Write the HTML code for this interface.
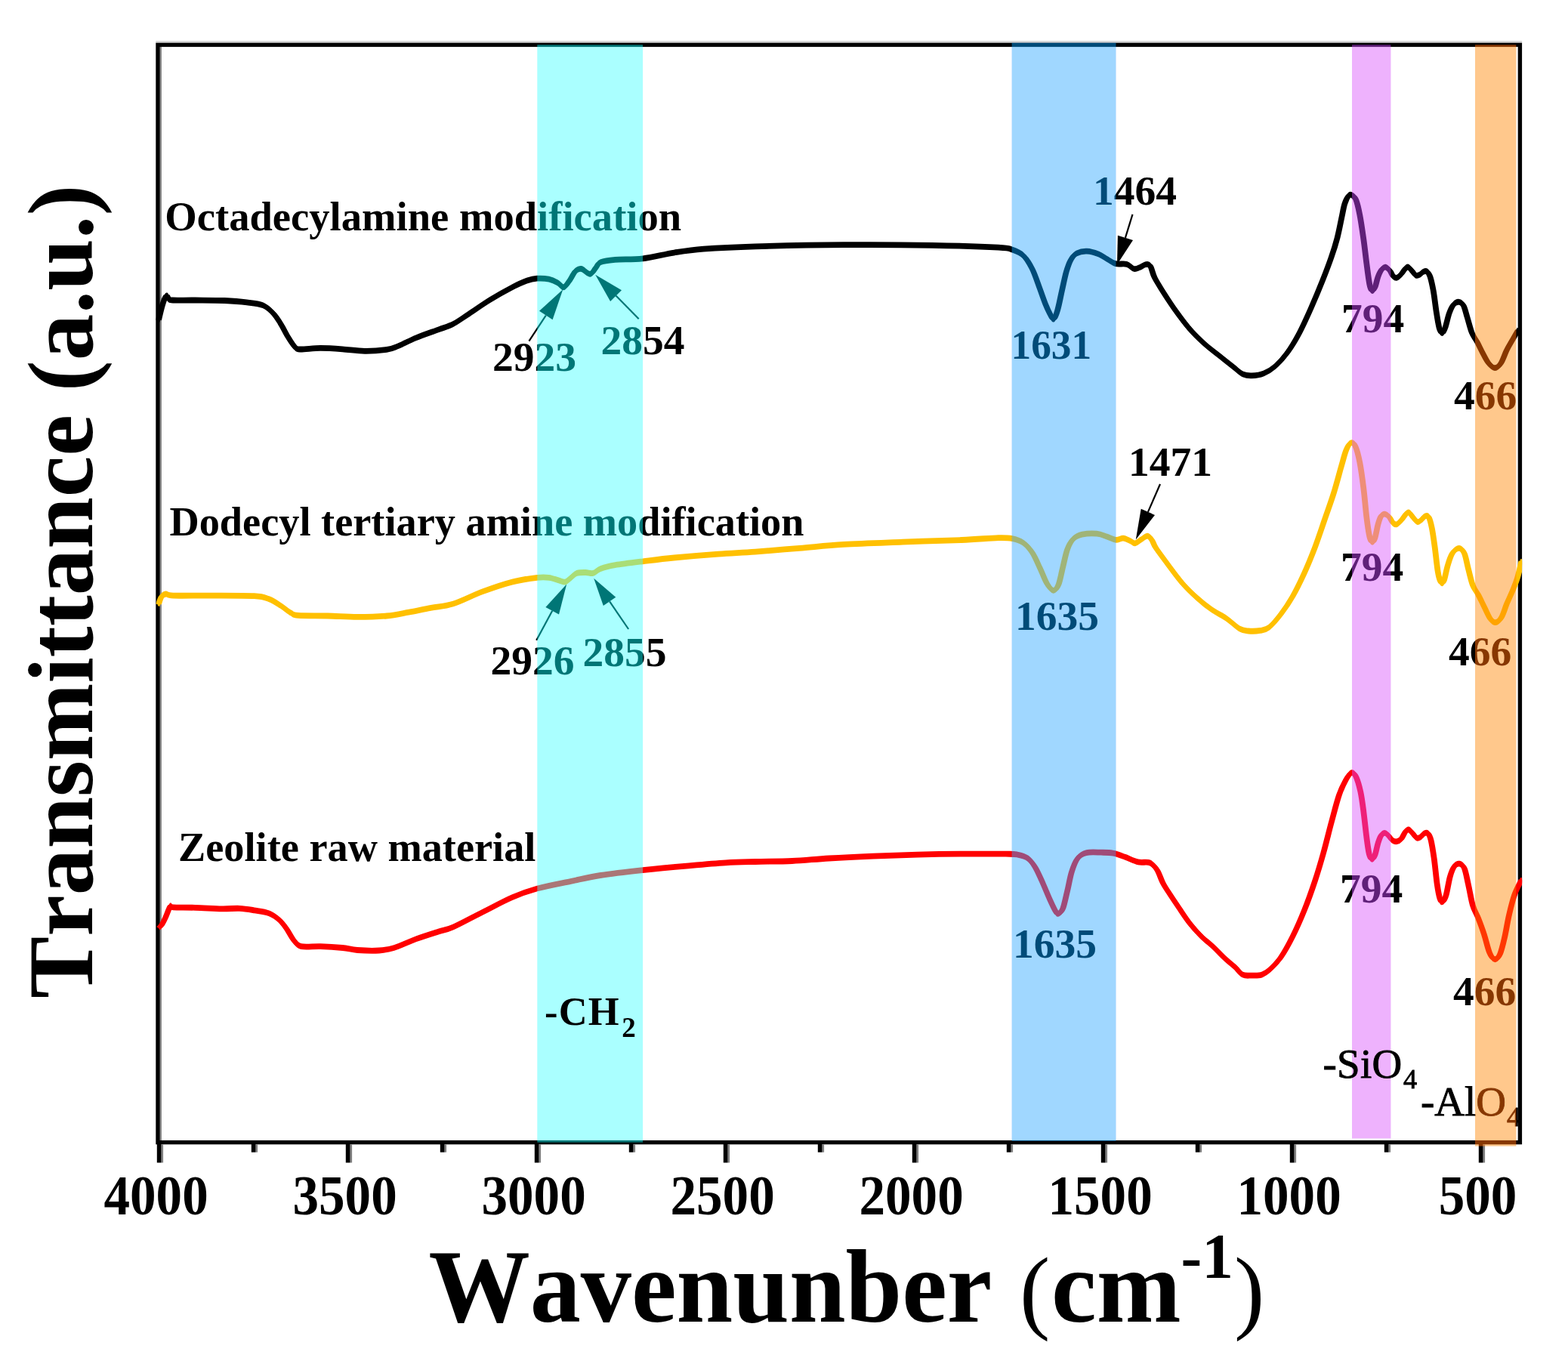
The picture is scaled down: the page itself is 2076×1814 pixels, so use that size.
<!DOCTYPE html>
<html lang="en"><head><meta charset="utf-8"><title>FTIR spectra</title>
<style>html,body{margin:0;padding:0;background:#fff}body{width:2076px;height:1814px;overflow:hidden}svg{display:block}text{font-kerning:none;font-family:"Liberation Serif","DejaVu Serif",serif;fill:#000}</style></head><body>
<svg xmlns="http://www.w3.org/2000/svg" width="2076" height="1814" viewBox="0 0 2076 1814">
<rect width="2076" height="1814" fill="#fff"/>
<g id="frame">
<rect x="206.3" y="54.0" width="1808.8" height="3.0" fill="#d8d8d8"/>
<rect x="211.4" y="59.4" width="2.6" height="1453.2" fill="#8a8a8a"/>
<rect x="209.00" y="59.40" width="1803.40" height="1453.20" fill="none" stroke="#000" stroke-width="5.40"/>
<rect x="213.2" y="1515.3" width="2.9" height="24.2" fill="#808080"/>
<line x1="210.6" y1="1512.6" x2="210.6" y2="1539.5" stroke="#000" stroke-width="5.6"/>
<rect x="338.2" y="1515.3" width="2.9" height="10.4" fill="#808080"/>
<line x1="335.6" y1="1512.6" x2="335.6" y2="1525.7" stroke="#000" stroke-width="5.6"/>
<rect x="463.2" y="1515.3" width="2.9" height="24.2" fill="#808080"/>
<line x1="460.6" y1="1512.6" x2="460.6" y2="1539.5" stroke="#000" stroke-width="5.6"/>
<rect x="588.2" y="1515.3" width="2.9" height="10.4" fill="#808080"/>
<line x1="585.6" y1="1512.6" x2="585.6" y2="1525.7" stroke="#000" stroke-width="5.6"/>
<rect x="713.2" y="1515.3" width="2.9" height="24.2" fill="#808080"/>
<line x1="710.6" y1="1512.6" x2="710.6" y2="1539.5" stroke="#000" stroke-width="5.6"/>
<rect x="838.2" y="1515.3" width="2.9" height="10.4" fill="#808080"/>
<line x1="835.6" y1="1512.6" x2="835.6" y2="1525.7" stroke="#000" stroke-width="5.6"/>
<rect x="963.2" y="1515.3" width="2.9" height="24.2" fill="#808080"/>
<line x1="960.6" y1="1512.6" x2="960.6" y2="1539.5" stroke="#000" stroke-width="5.6"/>
<rect x="1088.2" y="1515.3" width="2.9" height="10.4" fill="#808080"/>
<line x1="1085.6" y1="1512.6" x2="1085.6" y2="1525.7" stroke="#000" stroke-width="5.6"/>
<rect x="1213.2" y="1515.3" width="2.9" height="24.2" fill="#808080"/>
<line x1="1210.6" y1="1512.6" x2="1210.6" y2="1539.5" stroke="#000" stroke-width="5.6"/>
<rect x="1338.2" y="1515.3" width="2.9" height="10.4" fill="#808080"/>
<line x1="1335.6" y1="1512.6" x2="1335.6" y2="1525.7" stroke="#000" stroke-width="5.6"/>
<rect x="1463.2" y="1515.3" width="2.9" height="24.2" fill="#808080"/>
<line x1="1460.6" y1="1512.6" x2="1460.6" y2="1539.5" stroke="#000" stroke-width="5.6"/>
<rect x="1588.2" y="1515.3" width="2.9" height="10.4" fill="#808080"/>
<line x1="1585.6" y1="1512.6" x2="1585.6" y2="1525.7" stroke="#000" stroke-width="5.6"/>
<rect x="1713.2" y="1515.3" width="2.9" height="24.2" fill="#808080"/>
<line x1="1710.6" y1="1512.6" x2="1710.6" y2="1539.5" stroke="#000" stroke-width="5.6"/>
<rect x="1838.2" y="1515.3" width="2.9" height="10.4" fill="#808080"/>
<line x1="1835.6" y1="1512.6" x2="1835.6" y2="1525.7" stroke="#000" stroke-width="5.6"/>
<rect x="1963.2" y="1515.3" width="2.9" height="24.2" fill="#808080"/>
<line x1="1960.6" y1="1512.6" x2="1960.6" y2="1539.5" stroke="#000" stroke-width="5.6"/>
</g>
<g id="ticklabels">
<text transform="translate(206.6 1608.0) scale(0.9450 1)" font-size="73.1" font-weight="bold" text-anchor="middle">4000</text>
<text transform="translate(456.6 1608.0) scale(0.9450 1)" font-size="73.1" font-weight="bold" text-anchor="middle">3500</text>
<text transform="translate(706.6 1608.0) scale(0.9450 1)" font-size="73.1" font-weight="bold" text-anchor="middle">3000</text>
<text transform="translate(956.6 1608.0) scale(0.9450 1)" font-size="73.1" font-weight="bold" text-anchor="middle">2500</text>
<text transform="translate(1206.6 1608.0) scale(0.9450 1)" font-size="73.1" font-weight="bold" text-anchor="middle">2000</text>
<text transform="translate(1456.6 1608.0) scale(0.9450 1)" font-size="73.1" font-weight="bold" text-anchor="middle">1500</text>
<text transform="translate(1706.6 1608.0) scale(0.9450 1)" font-size="73.1" font-weight="bold" text-anchor="middle">1000</text>
<text transform="translate(1956.6 1608.0) scale(0.9450 1)" font-size="73.1" font-weight="bold" text-anchor="middle">500</text>
</g>
<text transform="translate(567.5 1749.5) scale(0.9800 1)" font-size="137.0" font-weight="bold" letter-spacing="0.00">Wavenunber <tspan font-weight="normal" font-size="123.3" dx="3.0">(</tspan><tspan dx="2.0">cm</tspan><tspan font-size="85.0" dy="-58.0" letter-spacing="0">-1</tspan><tspan font-weight="normal" font-size="123.3" dy="58.0" dx="1.0">)</tspan></text>
<text transform="translate(121.5 1322.0) rotate(-90) scale(1.0095 1)" font-size="122.0" font-weight="bold" letter-spacing="0.00">Transmittance (a.u.)</text>
<g id="labels">
<text transform="translate(218.3 304.8) scale(1.0000 1)" font-size="54.6" font-weight="bold" text-anchor="start">Octadecylamine modification</text>
<text transform="translate(224.5 709.0) scale(1.0000 1)" font-size="54.3" font-weight="bold" text-anchor="start">Dodecyl tertiary amine modification</text>
<text transform="translate(236.0 1140.4) scale(1.0000 1)" font-size="54.3" font-weight="bold" text-anchor="start">Zeolite raw material</text>
<text transform="translate(652.0 491.2) scale(1.0000 1)" font-size="55.5" font-weight="bold" text-anchor="start">2923</text>
<text transform="translate(795.5 469.3) scale(1.0000 1)" font-size="55.5" font-weight="bold" text-anchor="start">2854</text>
<text transform="translate(1338.5 475.4) scale(0.9600 1)" font-size="55.5" font-weight="bold" text-anchor="start">1631</text>
<text transform="translate(1447.0 271.2) scale(1.0000 1)" font-size="55.5" font-weight="bold" text-anchor="start">1464</text>
<text transform="translate(1776.0 439.6) scale(1.0000 1)" font-size="55.5" font-weight="bold" text-anchor="start">794</text>
<text transform="translate(1925.0 542.0) scale(1.0000 1)" font-size="55.5" font-weight="bold" text-anchor="start">466</text>
<text transform="translate(649.5 893.1) scale(1.0000 1)" font-size="55.5" font-weight="bold" text-anchor="start">2926</text>
<text transform="translate(771.5 882.4) scale(1.0000 1)" font-size="55.5" font-weight="bold" text-anchor="start">2855</text>
<text transform="translate(1344.0 834.1) scale(1.0000 1)" font-size="55.5" font-weight="bold" text-anchor="start">1635</text>
<text transform="translate(1494.0 629.9) scale(1.0000 1)" font-size="55.5" font-weight="bold" text-anchor="start">1471</text>
<text transform="translate(1775.0 768.6) scale(1.0000 1)" font-size="55.5" font-weight="bold" text-anchor="start">794</text>
<text transform="translate(1918.0 881.0) scale(1.0000 1)" font-size="55.5" font-weight="bold" text-anchor="start">466</text>
<text transform="translate(1341.0 1267.8) scale(1.0000 1)" font-size="55.5" font-weight="bold" text-anchor="start">1635</text>
<text transform="translate(1774.0 1195.1) scale(1.0000 1)" font-size="55.5" font-weight="bold" text-anchor="start">794</text>
<text transform="translate(1924.0 1331.1) scale(1.0000 1)" font-size="55.5" font-weight="bold" text-anchor="start">466</text>
</g>
<g id="arrows">
<line x1="700.4" y1="451.6" x2="722.8" y2="417.6" stroke="#000" stroke-width="2.2"/><polygon points="745.3,383.3 731.6,423.3 714.0,411.8" fill="#000"/>
<line x1="845.7" y1="422.3" x2="815.5" y2="391.6" stroke="#000" stroke-width="2.2"/><polygon points="788.2,363.8 823.0,384.3 808.1,399.0" fill="#000"/>
<line x1="1499.5" y1="283.9" x2="1489.9" y2="314.9" stroke="#000" stroke-width="2.2"/><polygon points="1479.0,350.2 1479.9,311.7 1500.0,318.0" fill="#000"/>
<line x1="710.2" y1="847.7" x2="731.2" y2="808.8" stroke="#000" stroke-width="2.2"/><polygon points="750.2,773.6 740.0,813.5 722.4,804.0" fill="#000"/>
<line x1="832.1" y1="833.0" x2="807.1" y2="796.4" stroke="#000" stroke-width="2.2"/><polygon points="786.2,765.8 815.3,790.7 798.8,802.0" fill="#000"/>
<line x1="1536.0" y1="641.0" x2="1519.9" y2="677.9" stroke="#000" stroke-width="2.2"/><polygon points="1503.8,714.5 1510.7,673.8 1529.0,681.9" fill="#000"/>
</g>
<text x="1881.0" y="1476.5" font-size="55.0" font-weight="normal" letter-spacing="0.00" stroke="#000" stroke-width="0.90">-AlO<tspan font-size="36.0" dy="14.0" dx="1.0">4</tspan></text>
<clipPath id="plotclip"><rect x="206.3" y="0" width="1808.8" height="1814"/></clipPath>
<g id="curves" clip-path="url(#plotclip)" fill="none" stroke-linejoin="round" stroke-linecap="butt" stroke-width="2.7">
<g stroke="#000"><path id="c1" d="M210.0 424.0C210.8 420.7 213.3 409.4 215.0 404.0C216.7 398.6 218.8 392.8 220.2 391.5C221.6 390.2 222.1 395.3 223.6 396.3C225.1 397.3 223.2 397.3 229.0 397.5C234.8 397.7 247.1 397.4 258.5 397.5C269.9 397.6 286.1 397.5 297.5 398.0C308.9 398.5 318.4 399.3 326.8 400.4C335.2 401.4 342.4 401.9 348.2 404.3C354.0 406.7 358.0 410.9 361.9 415.0C365.8 419.1 368.4 423.5 371.6 428.7C374.9 433.9 378.3 441.2 381.4 446.3C384.5 451.4 387.5 456.3 390.1 459.0C392.7 461.7 391.3 462.2 397.0 462.5C402.7 462.8 414.9 460.9 424.3 460.9C433.7 460.9 443.8 461.6 453.5 462.3C463.2 463.0 473.1 464.7 482.8 464.8C492.6 464.9 504.5 464.0 512.0 462.9C519.5 461.8 521.1 460.6 527.6 458.0C534.1 455.4 542.2 450.8 551.0 447.2C559.8 443.6 572.1 439.5 580.3 436.5C588.5 433.5 593.5 432.3 600.0 429.0C606.5 425.7 611.4 421.8 619.5 416.5C627.6 411.2 639.0 403.0 648.8 397.0C658.5 391.0 669.9 384.6 678.0 380.4C686.1 376.2 692.0 373.6 697.5 371.6C703.0 369.7 706.3 369.0 711.2 368.7C716.1 368.4 722.2 368.7 726.8 369.7C731.3 370.7 735.2 372.7 738.5 374.5C741.8 376.3 743.7 380.9 746.3 380.4C748.9 379.9 751.4 375.2 754.0 371.6C756.6 368.0 759.3 361.6 761.9 359.0C764.5 356.4 766.5 355.4 769.7 356.0C773.0 356.6 778.1 363.1 781.4 362.8C784.6 362.5 786.9 356.6 789.2 354.0C791.5 351.4 790.8 348.9 795.0 347.2C799.2 345.5 805.2 344.7 814.5 343.9C823.8 343.1 838.0 343.9 851.0 342.4C864.0 340.8 879.1 336.7 892.5 334.6C905.9 332.5 913.7 331.1 931.6 329.7C949.5 328.3 969.1 327.2 1000.0 326.3C1030.9 325.4 1078.0 324.4 1117.0 324.2C1156.0 323.9 1199.9 324.2 1234.0 324.8C1268.1 325.4 1304.1 326.7 1321.8 327.7C1339.5 328.7 1334.8 328.9 1340.3 330.7C1345.8 332.5 1350.6 334.3 1355.0 338.5C1359.4 342.7 1363.0 348.9 1366.6 356.0C1370.2 363.1 1373.5 373.6 1376.4 381.4C1379.3 389.2 1381.9 397.0 1384.2 402.8C1386.5 408.6 1388.5 412.7 1390.3 416.0C1392.1 419.3 1393.5 423.3 1395.2 422.4C1396.9 421.5 1398.4 416.8 1400.2 410.6C1402.0 404.4 1404.0 393.7 1405.9 385.3C1407.8 376.9 1409.8 366.8 1411.7 360.0C1413.7 353.2 1415.3 348.4 1417.6 344.3C1419.9 340.2 1421.8 337.4 1425.4 335.5C1429.0 333.6 1434.1 332.4 1439.0 332.6C1443.9 332.8 1450.0 334.7 1454.6 336.5C1459.1 338.3 1462.6 341.2 1466.3 343.3C1470.0 345.4 1472.8 348.1 1477.0 349.2C1481.2 350.3 1487.6 348.7 1491.7 349.8C1495.8 350.9 1498.5 355.3 1501.4 356.0C1504.3 356.7 1506.6 355.0 1509.2 354.0C1511.8 353.0 1514.7 350.5 1517.0 350.2C1519.3 349.9 1521.0 349.2 1522.9 352.1C1524.9 355.0 1525.8 361.9 1528.7 367.7C1531.6 373.5 1535.9 380.0 1540.4 387.2C1545.0 394.4 1550.2 402.5 1556.0 410.6C1561.8 418.7 1569.0 428.5 1575.5 436.0C1582.0 443.5 1588.5 449.6 1595.0 455.5C1601.5 461.4 1608.0 465.9 1614.5 471.1C1621.0 476.3 1628.8 482.6 1634.0 486.7C1639.2 490.8 1641.8 493.7 1645.7 495.5C1649.6 497.3 1652.9 497.6 1657.4 497.4C1662.0 497.2 1667.8 496.6 1673.0 494.5C1678.2 492.4 1683.4 489.2 1688.6 484.7C1693.8 480.1 1699.0 474.3 1704.2 467.2C1709.4 460.1 1714.6 451.6 1719.8 441.8C1725.0 432.1 1730.2 420.4 1735.4 408.7C1740.6 397.0 1746.5 383.0 1751.0 371.6C1755.5 360.2 1759.5 349.8 1762.7 340.4C1766.0 331.0 1768.2 323.9 1770.5 315.1C1772.8 306.3 1774.8 295.3 1776.4 287.8C1778.0 280.3 1778.8 274.7 1780.3 270.0C1781.8 265.3 1783.7 261.5 1785.2 259.5C1786.7 257.5 1787.5 257.2 1789.2 258.0C1790.9 258.8 1793.4 259.9 1795.2 264.3C1797.0 268.7 1798.6 275.7 1800.3 284.4C1802.0 293.1 1803.8 305.8 1805.3 316.5C1806.8 327.2 1808.0 338.6 1809.3 348.6C1810.6 358.6 1812.1 370.7 1813.3 376.7C1814.5 382.7 1815.1 384.1 1816.3 384.8C1817.5 385.5 1818.9 383.8 1820.3 380.8C1821.7 377.8 1822.9 370.7 1824.4 366.7C1825.9 362.7 1827.7 358.9 1829.4 356.7C1831.1 354.5 1832.6 353.3 1834.4 353.6C1836.2 353.9 1838.7 356.7 1840.4 358.7C1842.1 360.7 1842.9 364.2 1844.4 365.7C1845.9 367.2 1847.7 368.2 1849.5 367.7C1851.3 367.2 1853.7 364.7 1855.5 362.7C1857.3 360.7 1859.0 357.2 1860.5 355.7C1862.0 354.2 1863.0 353.1 1864.5 353.6C1866.0 354.1 1867.8 356.9 1869.5 358.7C1871.2 360.5 1872.9 363.9 1874.6 364.7C1876.3 365.5 1877.9 364.5 1879.6 363.7C1881.3 362.9 1882.9 360.4 1884.6 359.7C1886.3 359.0 1888.1 358.5 1889.6 359.7C1891.1 360.9 1892.2 362.5 1893.6 366.7C1894.9 370.9 1896.3 377.1 1897.7 384.8C1899.1 392.5 1900.4 404.5 1901.7 412.9C1903.0 421.3 1904.4 430.3 1905.7 435.0C1907.0 439.7 1908.4 441.3 1909.7 441.0C1911.0 440.7 1912.2 437.4 1913.7 433.0C1915.2 428.6 1916.9 419.9 1918.7 414.9C1920.5 409.9 1922.6 405.4 1924.8 402.9C1927.0 400.4 1929.6 399.5 1931.8 399.8C1934.0 400.1 1936.0 401.4 1937.8 404.9C1939.6 408.4 1940.9 414.9 1942.8 420.9C1944.7 426.9 1946.7 435.6 1948.9 441.0C1951.1 446.4 1953.6 448.8 1955.9 453.1C1958.2 457.5 1960.4 462.4 1962.9 467.1C1965.4 471.8 1968.3 477.9 1971.0 481.2C1973.7 484.5 1976.3 487.2 1979.0 487.2C1981.7 487.2 1984.3 485.2 1987.0 481.2C1989.7 477.2 1992.4 468.5 1995.1 463.1C1997.8 457.7 2000.6 453.4 2003.1 449.0C2005.6 444.6 2008.8 439.0 2010.0 437.0"/>
<use href="#c1" y="-1.27"/><use href="#c1" y="1.27"/><use href="#c1" x="-1.27"/><use href="#c1" x="1.27"/><use href="#c1" y="-2.55"/><use href="#c1" y="2.55"/><use href="#c1" x="-2.55"/><use href="#c1" x="2.55"/>
</g>
<g stroke="#ffc000"><path id="c2" d="M210.0 800.0C210.6 798.4 212.1 792.5 213.7 790.2C215.3 788.0 216.9 786.8 219.5 786.5C222.1 786.2 219.6 788.2 229.3 788.6C239.1 789.0 260.1 788.5 278.0 788.6C295.9 788.7 323.5 788.5 336.5 789.2C349.5 790.0 350.1 791.0 356.0 793.1C361.9 795.2 366.7 798.8 371.6 801.9C376.5 805.0 381.4 809.4 385.3 811.6C389.2 813.8 386.9 814.2 395.0 814.9C403.1 815.5 421.0 815.2 434.0 815.5C447.0 815.8 460.0 816.9 473.0 816.9C486.0 816.9 500.6 816.5 512.0 815.5C523.4 814.5 531.5 812.4 541.3 810.6C551.0 808.8 560.7 806.6 570.5 804.8C580.3 802.9 588.6 803.1 600.0 799.5C611.4 795.9 626.0 788.1 639.0 783.3C652.0 778.5 666.0 773.7 678.0 770.6C690.0 767.5 703.1 765.8 711.2 764.8C719.3 763.8 721.9 764.1 726.8 764.8C731.7 765.4 736.8 767.7 740.4 768.7C744.0 769.7 745.6 771.2 748.2 770.6C750.8 770.0 753.4 766.8 756.0 764.8C758.6 762.8 760.5 760.0 763.8 758.9C767.0 757.8 771.9 758.0 775.5 758.0C779.1 758.0 782.0 759.7 785.3 758.9C788.5 758.1 790.1 754.9 795.0 753.1C799.9 751.3 805.2 749.8 814.5 748.2C823.8 746.6 838.0 744.9 851.0 743.3C864.0 741.7 875.8 740.1 892.5 738.5C909.2 736.9 933.1 734.9 951.0 733.6C968.9 732.3 982.1 731.9 1000.0 730.6C1017.9 729.3 1039.0 727.4 1058.5 725.8C1078.0 724.2 1094.2 722.3 1117.0 720.9C1139.8 719.5 1169.0 718.6 1195.0 717.6C1221.0 716.6 1251.9 715.9 1273.0 715.0C1294.1 714.1 1310.6 712.4 1321.8 712.1C1333.0 711.8 1334.8 712.0 1340.3 713.1C1345.8 714.2 1350.6 715.8 1355.0 718.9C1359.4 722.0 1363.0 726.2 1366.6 731.6C1370.2 737.0 1373.2 744.3 1376.4 751.1C1379.7 757.9 1383.1 767.5 1386.1 772.6C1389.1 777.7 1392.0 781.6 1394.6 781.8C1397.2 782.0 1399.4 779.2 1401.5 774.0C1403.6 768.8 1405.3 758.4 1407.3 750.6C1409.2 742.8 1410.9 733.4 1413.2 727.2C1415.5 721.0 1417.8 716.9 1421.0 713.6C1424.2 710.4 1427.5 708.9 1432.7 707.7C1437.9 706.6 1446.7 706.2 1452.2 706.7C1457.7 707.2 1461.6 709.2 1465.8 710.6C1470.0 712.0 1473.9 714.6 1477.5 714.9C1481.1 715.2 1484.0 712.3 1487.3 712.6C1490.5 712.9 1494.4 715.4 1497.0 716.5C1499.6 717.6 1500.6 719.7 1502.9 719.4C1505.2 719.1 1508.0 716.1 1510.7 714.5C1513.5 712.9 1517.0 709.5 1519.4 709.7C1521.8 709.9 1523.5 712.9 1525.3 715.5C1527.1 718.1 1526.8 720.1 1530.2 725.3C1533.6 730.5 1540.0 738.9 1545.8 746.7C1551.6 754.5 1558.8 764.6 1565.3 772.1C1571.8 779.6 1578.3 785.8 1584.8 791.6C1591.3 797.5 1597.8 802.7 1604.3 807.2C1610.8 811.8 1617.6 814.7 1623.8 818.9C1630.0 823.1 1636.4 829.7 1641.3 832.5C1646.2 835.3 1648.5 835.1 1653.0 835.5C1657.5 835.9 1664.0 835.7 1668.6 834.9C1673.1 834.1 1675.7 834.2 1680.3 830.6C1684.9 827.0 1690.8 819.8 1696.0 813.0C1701.2 806.2 1706.3 798.7 1711.5 789.6C1716.7 780.5 1722.2 769.1 1727.1 758.4C1732.0 747.7 1736.2 737.3 1740.8 725.3C1745.3 713.3 1750.2 698.5 1754.4 686.3C1758.6 674.1 1762.5 663.7 1766.1 652.0C1769.7 640.3 1773.5 625.6 1776.2 616.3C1778.9 607.0 1780.2 601.2 1782.2 596.2C1784.2 591.2 1786.2 587.6 1788.2 586.6C1790.2 585.6 1792.2 585.9 1794.2 590.2C1796.2 594.5 1798.5 602.9 1800.3 612.3C1802.1 621.7 1803.8 634.3 1805.3 646.4C1806.8 658.5 1808.0 673.9 1809.3 684.6C1810.6 695.3 1812.1 705.2 1813.3 710.7C1814.5 716.2 1815.5 717.4 1816.7 717.7C1817.9 718.0 1819.0 716.6 1820.3 712.7C1821.6 708.9 1823.1 699.5 1824.4 694.6C1825.8 689.8 1826.9 685.9 1828.4 683.6C1829.9 681.3 1831.6 680.4 1833.4 680.6C1835.2 680.8 1837.6 682.6 1839.4 684.6C1841.2 686.6 1842.7 691.0 1844.4 692.6C1846.1 694.2 1847.7 694.9 1849.5 694.2C1851.3 693.5 1853.5 690.9 1855.5 688.6C1857.5 686.3 1859.8 682.3 1861.5 680.6C1863.2 678.9 1864.0 677.9 1865.5 678.6C1867.0 679.3 1868.7 682.5 1870.5 684.6C1872.3 686.7 1874.8 690.3 1876.6 691.0C1878.4 691.7 1879.9 689.8 1881.6 688.6C1883.3 687.4 1884.9 684.3 1886.6 683.6C1888.3 682.9 1890.1 682.1 1891.6 684.6C1893.1 687.1 1894.3 692.0 1895.7 698.7C1897.1 705.4 1898.4 715.1 1899.7 724.8C1901.0 734.5 1902.4 749.2 1903.7 756.9C1905.0 764.6 1906.4 769.0 1907.7 771.0C1909.0 773.0 1910.2 772.7 1911.7 769.0C1913.2 765.3 1914.9 754.9 1916.7 748.9C1918.5 742.9 1920.3 736.6 1922.8 732.8C1925.3 728.9 1929.1 725.8 1931.8 725.8C1934.5 725.8 1936.8 728.3 1938.8 732.8C1940.8 737.3 1942.1 745.9 1943.9 752.9C1945.8 759.9 1947.7 769.3 1949.9 775.0C1952.1 780.7 1954.4 782.3 1956.9 787.0C1959.4 791.7 1962.2 797.7 1964.9 803.1C1967.6 808.5 1970.5 815.7 1973.0 819.2C1975.5 822.7 1977.5 824.5 1980.0 824.2C1982.5 823.9 1985.5 821.4 1988.0 817.2C1990.5 813.0 1992.6 805.1 1995.1 799.1C1997.6 793.1 2000.8 786.7 2003.1 781.0C2005.4 775.3 2007.2 771.3 2009.1 764.9C2011.0 758.5 2013.6 746.5 2014.5 742.8"/>
<use href="#c2" y="-1.27"/><use href="#c2" y="1.27"/><use href="#c2" x="-1.27"/><use href="#c2" x="1.27"/><use href="#c2" y="-2.55"/><use href="#c2" y="2.55"/><use href="#c2" x="-2.55"/><use href="#c2" x="2.55"/>
</g>
<g stroke="#ff0000"><path id="c3" d="M211.0 1228.0C211.6 1227.3 213.1 1226.3 214.5 1224.0C215.9 1221.7 217.7 1218.0 219.5 1214.0C221.3 1210.0 223.8 1202.1 225.4 1200.0C227.0 1197.9 223.8 1201.1 229.3 1201.4C234.8 1201.7 247.8 1201.5 258.5 1201.8C269.2 1202.1 283.9 1203.1 293.6 1203.3C303.4 1203.5 309.9 1202.5 317.0 1202.8C324.1 1203.1 330.0 1204.2 336.5 1205.3C343.0 1206.4 350.5 1207.1 356.0 1209.2C361.5 1211.3 365.8 1214.6 369.7 1218.0C373.6 1221.4 376.1 1225.2 379.4 1229.7C382.6 1234.2 385.9 1241.4 389.2 1245.3C392.4 1249.2 393.0 1251.8 398.9 1253.1C404.8 1254.4 415.2 1252.8 424.3 1253.1C433.4 1253.4 445.4 1254.2 453.5 1255.0C461.6 1255.8 464.9 1257.4 473.0 1258.0C481.1 1258.6 494.2 1259.0 502.3 1258.5C510.4 1258.0 513.7 1257.5 521.8 1255.0C529.9 1252.5 541.2 1246.9 551.0 1243.3C560.8 1239.7 572.1 1236.2 580.3 1233.6C588.5 1231.0 590.2 1231.8 600.0 1227.5C609.8 1223.2 626.0 1214.2 639.0 1207.7C652.0 1201.2 666.0 1193.4 678.0 1188.2C690.0 1183.0 698.2 1180.1 711.2 1176.5C724.2 1172.9 742.0 1169.7 756.0 1166.8C770.0 1163.9 779.2 1161.5 795.0 1159.0C810.8 1156.5 831.5 1154.2 851.0 1152.1C870.5 1150.0 893.7 1147.9 912.0 1146.3C930.3 1144.7 946.1 1143.3 960.8 1142.4C975.5 1141.5 985.3 1141.4 1000.0 1141.0C1014.7 1140.6 1032.5 1140.8 1048.8 1140.0C1065.0 1139.2 1079.6 1137.6 1097.5 1136.5C1115.4 1135.4 1136.5 1134.4 1156.0 1133.6C1175.5 1132.8 1195.0 1132.1 1214.5 1131.6C1234.0 1131.1 1253.5 1130.8 1273.0 1130.7C1292.5 1130.6 1319.2 1130.6 1331.5 1130.7C1343.8 1130.8 1342.2 1130.6 1347.1 1131.6C1352.0 1132.6 1356.9 1133.7 1360.8 1136.5C1364.7 1139.3 1367.2 1142.9 1370.5 1148.2C1373.8 1153.5 1377.0 1161.3 1380.3 1168.5C1383.5 1175.7 1387.1 1184.7 1390.0 1191.1C1392.9 1197.5 1395.7 1203.6 1397.6 1206.7C1399.5 1209.8 1399.9 1210.4 1401.5 1209.7C1403.1 1209.0 1405.3 1207.8 1407.3 1202.8C1409.2 1197.8 1411.2 1187.5 1413.2 1179.4C1415.2 1171.3 1416.7 1161.2 1419.0 1154.1C1421.3 1146.9 1423.5 1140.7 1426.8 1136.5C1430.0 1132.3 1433.3 1130.4 1438.5 1129.1C1443.7 1127.8 1452.2 1128.6 1458.0 1128.7C1463.8 1128.8 1468.4 1128.7 1473.6 1129.7C1478.8 1130.7 1483.7 1132.6 1489.2 1134.6C1494.7 1136.5 1501.3 1140.1 1506.8 1141.4C1512.3 1142.7 1518.2 1140.6 1522.4 1142.4C1526.6 1144.2 1529.2 1147.5 1532.1 1152.1C1535.0 1156.6 1537.0 1164.2 1539.9 1169.7C1542.8 1175.2 1546.1 1179.8 1549.7 1185.3C1553.3 1190.8 1557.2 1196.6 1561.4 1202.8C1565.6 1209.0 1570.1 1216.1 1575.0 1222.3C1579.9 1228.5 1585.4 1234.7 1590.6 1239.9C1595.8 1245.1 1601.0 1248.6 1606.2 1253.5C1611.4 1258.4 1616.9 1264.5 1621.8 1269.1C1626.7 1273.6 1631.6 1277.2 1635.5 1280.8C1639.4 1284.4 1641.6 1288.8 1645.2 1290.6C1648.8 1292.4 1652.7 1291.6 1656.9 1291.6C1661.1 1291.6 1666.4 1292.1 1670.6 1290.6C1674.8 1289.1 1678.1 1286.7 1682.3 1282.8C1686.5 1278.9 1691.1 1274.3 1696.0 1267.2C1700.9 1260.1 1706.3 1250.3 1711.5 1239.9C1716.7 1229.5 1722.2 1217.0 1727.1 1204.8C1732.0 1192.6 1736.6 1179.6 1740.8 1167.0C1745.0 1154.4 1748.6 1142.2 1752.3 1129.0C1756.0 1115.8 1759.5 1100.8 1763.0 1088.0C1766.5 1075.2 1769.8 1061.8 1773.0 1052.5C1776.2 1043.2 1779.5 1037.1 1782.2 1032.2C1784.9 1027.3 1787.0 1023.9 1789.2 1023.2C1791.4 1022.5 1793.2 1024.0 1795.2 1028.2C1797.2 1032.4 1799.6 1040.6 1801.3 1048.3C1803.0 1056.0 1804.0 1064.4 1805.3 1074.4C1806.6 1084.4 1808.1 1099.1 1809.3 1108.5C1810.5 1117.9 1811.5 1125.7 1812.7 1130.6C1813.9 1135.5 1815.0 1137.4 1816.3 1137.7C1817.6 1138.0 1818.9 1136.1 1820.3 1132.6C1821.7 1129.1 1823.1 1120.9 1824.4 1116.6C1825.8 1112.2 1826.9 1108.8 1828.4 1106.5C1829.9 1104.2 1831.7 1102.9 1833.4 1102.9C1835.1 1102.9 1836.7 1104.9 1838.4 1106.5C1840.1 1108.1 1841.6 1111.3 1843.4 1112.6C1845.2 1113.9 1847.5 1114.5 1849.5 1114.2C1851.5 1113.9 1853.7 1112.6 1855.5 1110.5C1857.3 1108.4 1858.9 1103.5 1860.5 1101.5C1862.1 1099.5 1863.2 1098.2 1864.9 1098.5C1866.6 1098.8 1868.7 1101.7 1870.5 1103.5C1872.3 1105.3 1873.9 1108.7 1875.6 1109.5C1877.3 1110.3 1878.9 1109.5 1880.6 1108.5C1882.3 1107.5 1883.9 1104.3 1885.6 1103.5C1887.3 1102.7 1889.1 1102.0 1890.6 1103.5C1892.1 1105.0 1893.2 1107.1 1894.6 1112.6C1895.9 1118.1 1897.3 1127.0 1898.7 1136.7C1900.1 1146.4 1901.4 1161.8 1902.7 1170.8C1904.0 1179.8 1905.4 1187.1 1906.7 1190.9C1908.0 1194.8 1909.0 1194.9 1910.3 1193.9C1911.6 1192.9 1913.1 1190.4 1914.7 1184.9C1916.3 1179.4 1918.0 1167.2 1919.8 1160.8C1921.6 1154.4 1923.7 1149.5 1925.8 1146.7C1927.9 1143.9 1930.2 1143.2 1932.4 1143.7C1934.6 1144.2 1936.9 1145.2 1938.8 1149.7C1940.7 1154.2 1942.1 1162.6 1943.9 1170.8C1945.8 1179.0 1947.7 1191.5 1949.9 1198.9C1952.1 1206.3 1954.4 1208.6 1956.9 1215.0C1959.4 1221.4 1962.4 1229.4 1964.9 1237.1C1967.4 1244.8 1969.7 1255.7 1972.0 1261.2C1974.3 1266.7 1976.7 1269.9 1979.0 1270.2C1981.3 1270.5 1983.8 1268.1 1986.0 1263.2C1988.2 1258.3 1990.1 1249.8 1992.1 1241.1C1994.1 1232.4 1995.9 1220.4 1998.1 1211.0C2000.3 1201.6 2002.4 1192.6 2005.1 1184.9C2007.8 1177.2 2012.9 1168.2 2014.5 1164.8"/>
<use href="#c3" y="-1.27"/><use href="#c3" y="1.27"/><use href="#c3" x="-1.27"/><use href="#c3" x="1.27"/><use href="#c3" y="-2.55"/><use href="#c3" y="2.55"/><use href="#c3" x="-2.55"/><use href="#c3" x="2.55"/>
</g>
</g>
<g id="bands">
<rect x="711.3" y="59.3" width="139.8" height="1453.3" fill="rgb(170,255,255)" style="mix-blend-mode:multiply"/>
<rect x="711.3" y="59.3" width="139.8" height="1453.3" fill="rgb(0,118,118)" style="mix-blend-mode:screen"/>
<rect x="1339.6" y="56.7" width="137.9" height="1454.3" fill="rgb(160,198,255)" style="mix-blend-mode:multiply"/>
<rect x="1339.6" y="56.7" width="137.9" height="1454.3" fill="rgb(0,75,120)" style="mix-blend-mode:screen"/>
<rect x="1790.0" y="59.3" width="51.4" height="1448.1" fill="rgb(228,167,251)" style="mix-blend-mode:multiply"/>
<rect x="1790.0" y="59.3" width="51.4" height="1448.1" fill="rgb(95,32,120)" style="mix-blend-mode:screen"/>
<rect x="1953.0" y="59.3" width="54.4" height="1458.3" fill="rgb(255,185,140)" style="mix-blend-mode:multiply"/>
<rect x="1953.0" y="59.3" width="54.4" height="1458.3" fill="rgb(135,55,0)" style="mix-blend-mode:screen"/>
</g>
<text x="721.0" y="1357.3" font-size="52.5" font-weight="bold" letter-spacing="1.20">-CH<tspan font-size="37.0" dy="16.0" dx="2.5">2</tspan></text>
<text x="1751.5" y="1427.4" font-size="55.0" font-weight="normal" letter-spacing="0.30" stroke="#000" stroke-width="0.90">-SiO<tspan font-size="36.0" dy="14.0" dx="1.5">4</tspan></text>
</svg></body></html>
